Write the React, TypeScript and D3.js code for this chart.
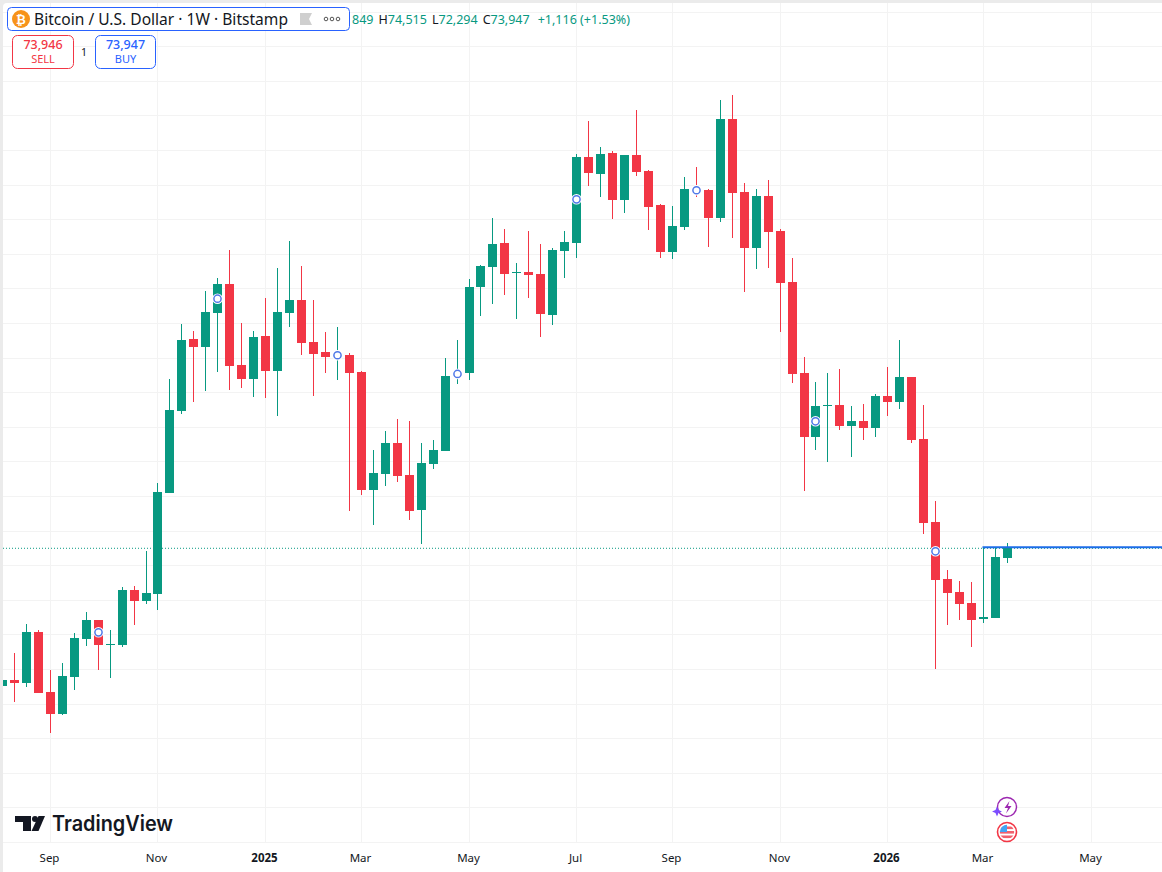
import React from "react";
import * as d3 from "d3";

// Weekly Bitcoin / USD candles on Bitstamp
const firstWeek = "2024-08-05";
const opens = [57970,58670,58320,64240,57280,54730,59020,63430,65630,62730,62730,69110,67830,68650,80360,89870,98230,97300,101240,104610,95210,93590,98570,94510,101240,102750,97880,96720,96250,96370,94400,80710,82570,86160,82450,78390,83730,85230,93930,94280,104260,106580,109360,105880,106000,105770,101010,108430,109360,119340,117370,119800,114350,119570,117710,113770,108320,111220,115630,115510,112260,123750,115280,108780,114810,110750,104840,94280,86860,90450,90570,88130,88710,87900,91610,90920,93820,86630,77000,70390,68880,67600,65750,65860,72849];
const highs = [58670,61800,65170,64470,59830,60640,64120,66560,65630,64470,69460,69570,73630,81520,93590,99970,99150,103790,105300,108550,100080,99150,102980,106460,109590,106690,102750,99040,99620,96600,94510,85350,87550,88950,88710,86160,86510,96020,98110,105190,106810,112260,110990,107040,110750,109250,108780,110750,119690,123510,120500,120030,119570,124790,117830,113890,113650,117020,118180,115630,125950,126530,116320,115630,116670,110990,107620,96140,93240,94280,94750,90450,90690,91850,94980,98110,93820,90570,79430,71430,70150,70040,73980,73980,74515];
const lows = [57970,56120,57860,57160,52520,54610,57510,62610,59830,58900,62500,65050,67490,66790,80360,89530,90920,92190,94400,92310,92540,91500,91380,89290,99620,96370,91610,94280,93470,78270,80130,76650,81170,81640,77230,74450,83150,85230,93010,93470,100890,102290,103330,100550,102980,98460,99850,105300,107620,115970,114700,112150,112840,117130,110870,107620,107510,110870,114700,108900,111800,109940,103680,106350,106460,99040,93120,80590,85350,83960,87670,84540,86510,86860,89290,90110,86160,75610,59950,65050,65630,62500,65280,65860,72294];
const closes = [58670,58320,64240,57160,54730,59130,63540,65630,62730,62850,69110,67830,68760,80480,89990,98110,97300,101360,104610,95090,93590,98460,94510,101360,102750,97760,96490,96140,96600,94280,80710,82680,86160,82330,78270,83840,85350,93930,94280,104260,106690,109250,105770,106000,105650,101130,108550,109480,119340,117480,119690,114350,119570,117600,113540,108320,111330,115630,115390,112260,123750,115160,108780,114810,110640,104720,94170,86860,90450,90570,88130,88710,87900,91610,90920,93820,86510,76880,70270,68760,67490,65630,65980,72940,73947];
const weekMarkers = [8,18,28,38,48,58,68,78];
const markerPrices = [64200,102900,96340,94170,114430,115480,88680,73600];

const axisTicks = ["2024-09-02","2024-11-04","2025-01-06","2025-03-03","2025-05-05","2025-07-07","2025-09-01","2025-11-03","2026-01-05","2026-03-02","2026-05-04"];
const axisLabels = ["Sep","Nov","2025","Mar","May","Jul","Sep","Nov","2026","Mar","May"];
const boldLabels = ["2025","2026"];
const gridBase = 76000;
const gridStep = 4014;
const gridLevels = d3.range(-9, 16);
const lastPrice = 73947;

const GREEN = "#089981";
const RED = "#f23645";
const GRID = "#f3f3f3";
const INK = "#131722";
const UI = "'Noto Sans', 'Open Sans', sans-serif";

const W = 1162;
const H = 872;
const start = new Date(firstWeek + "T00:00:00Z");
const dates = opens.map((_, i) => d3.utcWeek.offset(start, i));

const x = d3.scaleUtc().domain([new Date("2024-08-12T00:00:00Z"), new Date("2026-03-16T00:00:00Z")]).range([14.4, 1007.4]);
const y = d3.scaleLinear().domain([126530, 52520]).range([95, 733]);
const px = (d: Date) => Math.floor(x(d)) + 0.5;

export default function App() {
  return (
    <svg width={W} height={H} viewBox={`0 0 ${W} ${H}`} style={{ position: "absolute", left: 0, top: 0, display: "block", background: "#ebebeb" }}>
      <defs>
        <clipPath id="plot"><rect x={3} y={3} width={W} height={839} /></clipPath>
      </defs>
      <path d={`M3 ${H}V7a4 4 0 0 1 4-4H${W}V${H}Z`} fill="#fff" />
      <g clipPath="url(#plot)">
        {gridLevels.map((k) => {
          const yy = Math.round(y(gridBase + gridStep * k)) + 0.5;
          return <line key={k} x1={3} x2={W} y1={yy} y2={yy} stroke={GRID} />;
        })}
        {axisTicks.map((t) => {
          const xx = px(new Date(t + "T00:00:00Z"));
          return <line key={t} x1={xx} x2={xx} y1={3} y2={842} stroke={GRID} />;
        })}
        <line x1={3} x2={W} y1={y(lastPrice)} y2={y(lastPrice)} stroke={GREEN} strokeWidth={1} strokeDasharray="1 2" />
        {dates.map((d, i) => {
          const c = closes[i] >= opens[i] ? GREEN : RED;
          const cx = px(d);
          const top = Math.round(y(Math.max(opens[i], closes[i])));
          const bot = Math.round(y(Math.min(opens[i], closes[i])));
          return (
            <g key={i}>
              <line x1={cx} x2={cx} y1={Math.round(y(highs[i]))} y2={Math.round(y(lows[i]))} stroke={c} />
              <rect x={cx - 4.5} width={9} y={top} height={Math.max(1, bot - top)} fill={c} />
            </g>
          );
        })}
        <line x1={px(dates[dates.length - 3]) - 1} x2={W} y1={y(lastPrice) - 1} y2={y(lastPrice) - 1} stroke="#1c6de8" strokeWidth={2} />
        {weekMarkers.map((w, i) => (
          <g key={w}>
            <circle cx={px(dates[w])} cy={y(markerPrices[i])} r={5.3} fill="#fff" />
            <circle cx={px(dates[w])} cy={y(markerPrices[i])} r={3.6} fill="#fff" stroke="#4f78e8" strokeWidth={1.5} />
          </g>
        ))}
      </g>

      {/* time axis */}
      <line x1={3} x2={W} y1={842.5} y2={842.5} stroke={GRID} />
      {axisTicks.map((t, i) => (
        <text key={t} x={px(new Date(t + "T00:00:00Z")) - 1} y={862} textAnchor="middle" fontFamily={UI}
          fontSize={11.5} fontWeight={boldLabels.includes(axisLabels[i]) ? 700 : 400} fill={INK}>
          {axisLabels[i]}
        </text>
      ))}

      {/* legend */}
      <rect x={7.5} y={7.5} width={342} height={23} rx={4} fill="#fff" stroke="#2962ff" strokeWidth={1} />
      <circle cx={21} cy={19} r={9} fill="#f7931a" />
      <text x={21} y={23.5} textAnchor="middle" fontFamily="'DejaVu Sans', sans-serif" fontSize={12} fontWeight={700} fill="#fff">₿</text>
      <text x={34} y={25} fontFamily={UI} fontSize={15.5} fill={INK} textLength={254} lengthAdjust="spacingAndGlyphs">Bitcoin / U.S. Dollar · 1W · Bitstamp</text>
      <path d="M300 13h12l-3 6 3 6h-12z" fill="#cfcfcf" />
      {[326, 332, 338].map((c) => <circle key={c} cx={c} cy={19} r={1.8} fill="none" stroke="#555" strokeWidth={1} />)}
      <text x={352} y={24} fontFamily={UI} fontSize={12.5} fill={GREEN} textLength={278} lengthAdjust="spacingAndGlyphs">
        849<tspan fill={INK} dx={5}>H</tspan>74,515<tspan fill={INK} dx={5}>L</tspan>72,294<tspan fill={INK} dx={5}>C</tspan>73,947<tspan dx={8}>+1,116 (+1.53%)</tspan>
      </text>

      <rect x={12.5} y={35.5} width={61} height={33} rx={5} fill="#fff" stroke={RED} />
      <text x={43} y={49} textAnchor="middle" fontFamily={UI} fontSize={12.5} fontWeight={500} fill={RED}>73,946</text>
      <text x={43} y={63} textAnchor="middle" fontFamily={UI} fontSize={11} fill={RED}>SELL</text>
      <text x={84} y={56} textAnchor="middle" fontFamily={UI} fontSize={10.5} fill={INK}>1</text>
      <rect x={95.5} y={35.5} width={60} height={33} rx={5} fill="#fff" stroke="#2962ff" />
      <text x={125.5} y={49} textAnchor="middle" fontFamily={UI} fontSize={12.5} fontWeight={500} fill="#2962ff">73,947</text>
      <text x={125.5} y={63} textAnchor="middle" fontFamily={UI} fontSize={11} fill="#2962ff">BUY</text>

      {/* logo */}
      <path d="M15 816h16v15h-8v-9h-8z" fill={INK} />
      <circle cx={35} cy={819} r={3} fill={INK} />
      <path d="M38.5 816H45l-6.5 15h-7z" fill={INK} />
      <text x={52} y={831} fontFamily="Inter, sans-serif" fontSize={21} fontWeight={600} fill={INK} textLength={121} lengthAdjust="spacingAndGlyphs">TradingView</text>

      {/* event icons */}
      <circle cx={1007} cy={807} r={9.5} fill="#fff" stroke="#9c27b0" strokeWidth={1.4} />
      <path d="M1009.5 801l-5 7h3.5l-2 5.5 5.5-7.5h-3.5z" fill="#9c27b0" />
      <path d="M997 806.5l1.5 3.5 3.5 1.5-3.5 1.5-1.5 3.5-1.5-3.5-3.5-1.5 3.5-1.5z" fill="#7c4dff" />
      <circle cx={1007} cy={832} r={9.5} fill="#fff" stroke={RED} strokeWidth={1.6} />
      <clipPath id="flag"><circle cx={1007} cy={832} r={7.2} /></clipPath>
      <g clipPath="url(#flag)">
        <rect x={999} y={825} width={16} height={14} fill="#fff" />
        {[826.5, 831, 835.5].map((s) => <rect key={s} x={999} y={s} width={16} height={2.6} fill="#f0616d" />)}
        <rect x={999} y={824} width={8} height={8} fill="#42a5f5" />
      </g>
    </svg>
  );
}
